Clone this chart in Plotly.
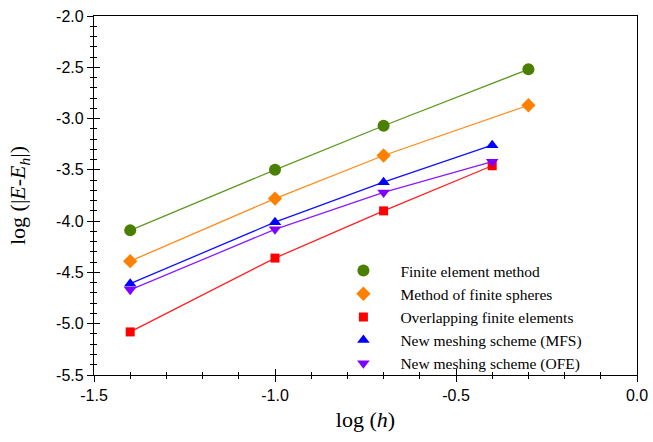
import plotly.graph_objects as go

log_h = [-1.4, -1.0, -0.7, -0.3]
log_h_short = [-1.4, -1.0, -0.7, -0.4]

fem = [-4.09, -3.50, -3.07, -2.52]
mfs = [-4.39, -3.78, -3.36, -2.87]
ofe = [-5.08, -4.36, -3.90, -3.46]
new_mfs = [-4.61, -4.01, -3.62, -3.26]
new_ofe = [-4.67, -4.08, -3.72, -3.42]

x_tick_vals = [-1.5, -1.0, -0.5, 0.0]
x_tick_text = ["-1.5", "-1.0", "-0.5", "0.0"]
y_tick_vals = [-5.5, -5.0, -4.5, -4.0, -3.5, -3.0, -2.5, -2.0]
y_tick_text = ["-5.5", "-5.0", "-4.5", "-4.0", "-3.5", "-3.0", "-2.5", "-2.0"]

series = [
    ("Finite element method", log_h, fem, "#4b7f00", "#5e9a22", "circle", 12),
    ("Method of finite spheres", log_h, mfs, "#ff8000", "#ff8a1a", "diamond", 11),
    ("Overlapping finite elements", log_h_short, ofe, "#ff0000", "#ff2020", "square", 9),
    ("New meshing scheme (MFS)", log_h_short, new_mfs, "#0000ff", "#1010ff", "triangle-up", 11),
    ("New meshing scheme (OFE)", log_h_short, new_ofe, "#8000ff", "#8a1aff", "triangle-down", 11),
]

fig = go.Figure()
for name, xs, ys, mcol, lcol, sym, sz in series:
    fig.add_trace(go.Scatter(x=xs, y=ys, mode="lines", line=dict(color=lcol, width=1.3),
                             showlegend=False, hoverinfo="skip"))
for name, xs, ys, mcol, lcol, sym, sz in series:
    fig.add_trace(go.Scatter(x=xs, y=ys, mode="markers", name=name,
                             marker=dict(color=mcol, symbol=sym, size=sz, line=dict(width=0))))

# invisible trace to carry the overlay axes (inner half of crossing ticks)
fig.add_trace(go.Scatter(x=[None], y=[None], xaxis="x2", yaxis="y2", showlegend=False,
                         hoverinfo="skip"))

tickfont = dict(family="Liberation Sans, Arial, sans-serif", size=16, color="black")
serif = "Liberation Serif, Times New Roman, serif"
common = dict(showgrid=False, zeroline=False, showline=True, linecolor="black", linewidth=1.2,
              tickcolor="black", tickwidth=1, ticklen=6, automargin=False)

fig.update_layout(
    width=653, height=442,
    margin=dict(l=94, r=16, t=16, b=67),
    paper_bgcolor="white", plot_bgcolor="white",
    xaxis=dict(range=[-1.5, 0.0], tickmode="array", tickvals=x_tick_vals, ticktext=x_tick_text,
               ticks="outside", mirror=True, tickfont=tickfont,
               minor=dict(dtick=0.1, tick0=-1.5, ticks="outside", ticklen=3, tickcolor="black"),
               title=dict(text="log (<i>h</i>)", font=dict(family=serif, size=22, color="black"),
                          standoff=8),
               **common),
    yaxis=dict(range=[-5.5, -2.0], tickmode="array", tickvals=y_tick_vals, ticktext=y_tick_text,
               ticks="outside", mirror=True, tickfont=tickfont,
               minor=dict(dtick=0.1, tick0=-2.0, ticks="outside", ticklen=3, tickcolor="black"),
               title=dict(text="log (|<i>E</i>-<i>E<sub>h</sub></i>|)",
                          font=dict(family=serif, size=22, color="black"),
                          standoff=24),
               **common),
    xaxis2=dict(range=[-1.5, 0.0], tickmode="array", tickvals=x_tick_vals, overlaying="x",
                anchor="y2", side="bottom", ticks="inside", showticklabels=False,
                minor=dict(dtick=0.1, tick0=-1.5, ticks="inside", ticklen=3, tickcolor="black"),
                **common),
    yaxis2=dict(range=[-5.5, -2.0], tickmode="array", tickvals=y_tick_vals, overlaying="y",
                anchor="x2", side="left", ticks="inside", showticklabels=False,
                minor=dict(dtick=0.1, tick0=-2.0, ticks="inside", ticklen=3, tickcolor="black"),
                **common),
    legend=dict(x=0.428, y=0.337, xanchor="left", yanchor="top", bgcolor="rgba(0,0,0,0)",
                font=dict(family=serif, size=15.5, color="black"),
                itemwidth=64, tracegroupgap=0),
    showlegend=True,
)

fig.write_html("out.html")
